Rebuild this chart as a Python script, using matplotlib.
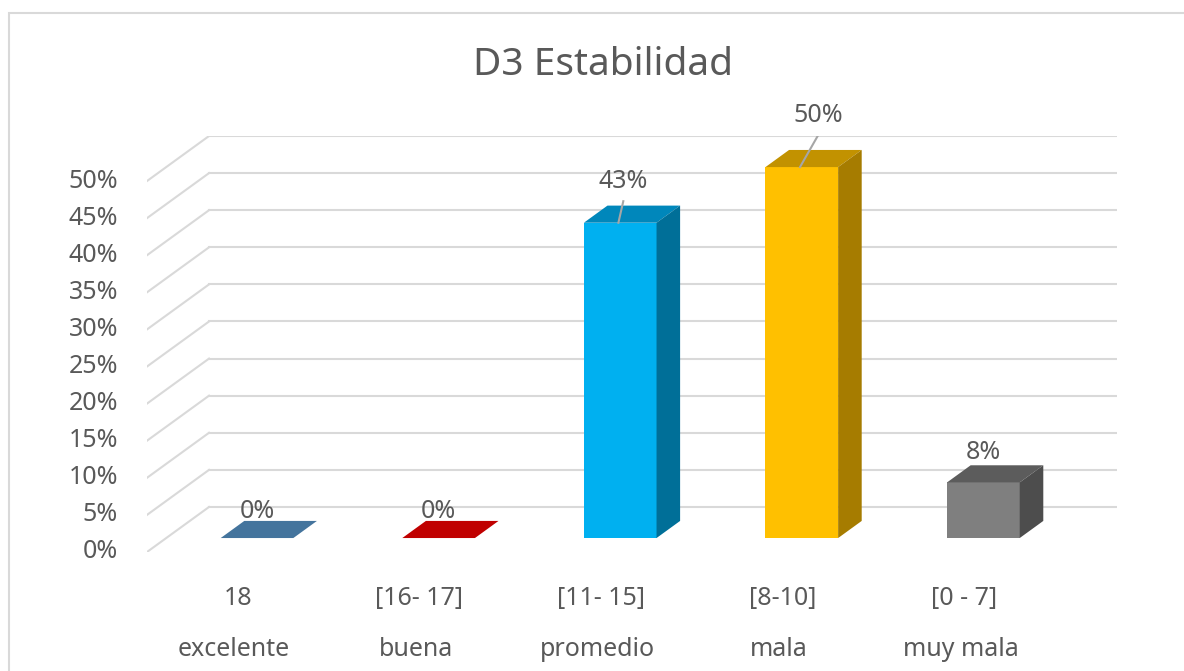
import matplotlib.pyplot as plt
from matplotlib.patches import Polygon, Rectangle

plt.rcParams['font.family'] = ['Noto Sans', 'DejaVu Sans']

# datos
rangos = ["18", "[16- 17]", "[11- 15]", "[8-10]", "[0 - 7]"]
niveles = ["excelente", "buena", "promedio", "mala", "muy mala"]
valores = [0, 0, 42.5, 50, 7.5]
etiquetas = ["0%", "0%", "43%", "50%", "8%"]
ticks = [0, 5, 10, 15, 20, 25, 30, 35, 40, 45, 50]

col_frente = ["#44749d", "#c00000", "#00b0f0", "#ffc000", "#7f7f7f"]
col_arriba = ["#44749d", "#c00000", "#0087bb", "#c29200", "#5c5c5c"]
col_lado = ["#3a6385", "#a00000", "#006f98", "#a67c00", "#4d4d4d"]

gris = "#595959"
grid = "#d9d9d9"

# profundidad del "3D" (unidades de datos)
DX, DY = 0.3416, 6.07
f0, f1 = 0.31, 0.69
W = 0.40

fig = plt.figure(figsize=(11.84, 6.71), dpi=100)
fig.patches.append(Rectangle((9 / 1184, -0.05), 1.1, 1 - 13 / 671 + 0.05,
                             transform=fig.transFigure, fill=False,
                             edgecolor=grid, linewidth=1.5))
ax = fig.add_axes([147 / 1184, (671 - 552) / 671, 970 / 1184, 416 / 671])
ax.set_xlim(-0.5, 4.5 + DX)
ax.set_ylim(0, 50 + DY)
ax.axis("off")

# rejilla: pared del fondo y pared izquierda
for t in ticks:
    ax.plot([-0.5 + DX, 4.5 + DX], [t + DY, t + DY], color=grid, lw=1.5, zorder=1)
    ax.plot([-0.5, -0.5 + DX], [t, t + DY], color=grid, lw=1.5, zorder=1)
    ax.text(-0.66, t, f"{t}%", ha="right", va="center", fontsize=18, color=gris)

# barras
x_fr = [i + f0 * DX for i in range(len(valores))]
y0 = f0 * DY
ddx, ddy = (f1 - f0) * DX, (f1 - f0) * DY
ax.bar(x_fr, valores, width=W, bottom=y0, color=col_frente, linewidth=0, zorder=3)
for i, v in enumerate(valores):
    xl, xr = x_fr[i] - W / 2, x_fr[i] + W / 2
    top = y0 + v
    ax.add_patch(Polygon([(xl, top), (xr, top), (xr + ddx, top + ddy), (xl + ddx, top + ddy)],
                         closed=True, color=col_arriba[i], lw=0, zorder=3))
    if v > 0:
        ax.add_patch(Polygon([(xr, y0), (xr + ddx, y0 + ddy), (xr + ddx, top + ddy), (xr, top)],
                             closed=True, color=col_lado[i], lw=0, zorder=3))

# etiquetas de datos
desp = [(0, 3.6), (0, 3.6), (0.017, 5.5), (0.09, 6.9), (0, 4.0)]
lider = [False, False, True, True, False]
for i, v in enumerate(valores):
    tx = x_fr[i] + desp[i][0]
    ty = y0 + v + desp[i][1]
    ax.text(tx, ty, etiquetas[i], ha="center", va="center", fontsize=18, color=gris, zorder=5)
    if lider[i]:
        ax.plot([x_fr[i] - 0.01, tx], [y0 + v, ty - 2.6], color="#a6a6a6", lw=1.5, zorder=4)

# etiquetas de categoria (dos niveles)
for i in range(len(rangos)):
    ax.text(i, -6.3, rangos[i], ha="center", va="center", fontsize=18, color=gris)
    ax.text(i - 0.02, -13.2, niveles[i], ha="center", va="center", fontsize=18, color=gris)

fig.text(603 / 1184, 1 - 65 / 671, "D3 Estabilidad", ha="center", va="center",
         fontsize=28, color=gris)

fig.savefig("out.png", dpi=100)
